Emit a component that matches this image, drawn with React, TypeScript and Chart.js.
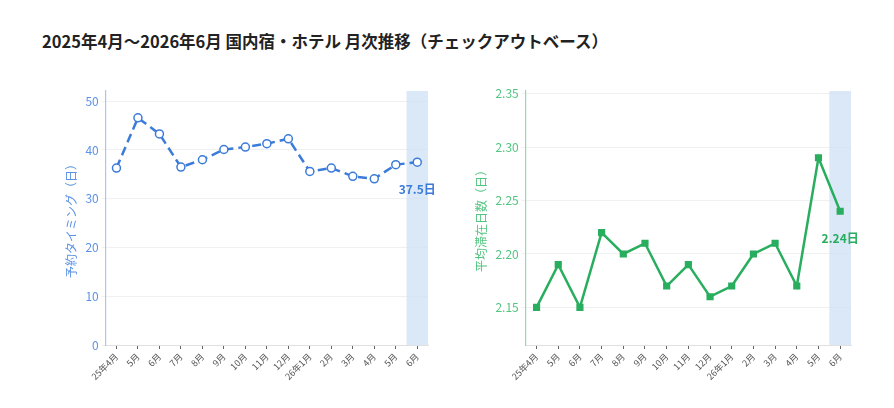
import React, { useEffect, useRef } from "react";
import { Chart, registerables } from "chart.js";

Chart.register(...registerables);

const categories = ["25年4月", "5月", "6月", "7月", "8月", "9月", "10月", "11月", "12月", "26年1月", "2月", "3月", "4月", "5月", "6月"];
const bookingTiming = [36.3, 46.6, 43.3, 36.5, 38.0, 40.1, 40.6, 41.3, 42.3, 35.6, 36.3, 34.6, 34.1, 37.0, 37.5];
const avgStay = [2.15, 2.19, 2.15, 2.22, 2.2, 2.21, 2.17, 2.19, 2.16, 2.17, 2.2, 2.21, 2.17, 2.29, 2.24];
const leftTicks = [0, 10, 20, 30, 40, 50];
const rightTicks = [2.15, 2.2, 2.25, 2.3, 2.35];
const leftLabel = "37.5日";
const rightLabel = "2.24日";

const FONT = "'Noto Sans CJK JP', 'Noto Sans', sans-serif";

function makeChart(
  canvas: HTMLCanvasElement,
  data: number[],
  opts: {
    color: string;
    tickColor: string;
    axisColor: string;
    title: string;
    min: number;
    max: number;
    ticks: number[];
    dashed: boolean;
    pointStyle: string;
    label: string;
    decimals: number;
    padLeft: number;
  }
) {
  const bandPlugin = {
    id: "band",
    beforeDatasetsDraw(chart: any) {
      const { ctx, chartArea, scales } = chart;
      const x = scales.x;
      const last = categories.length - 1;
      const x0 = (x.getPixelForValue(last - 1) + x.getPixelForValue(last)) / 2;
      ctx.save();
      ctx.fillStyle = "rgba(205,224,244,0.75)";
      ctx.fillRect(x0, chartArea.top, chartArea.right - x0, chartArea.bottom - chartArea.top);
      ctx.restore();
    },
  };
  const labelPlugin = {
    id: "lastLabel",
    afterDatasetsDraw(chart: any) {
      const { ctx } = chart;
      const meta = chart.getDatasetMeta(0);
      const pt = meta.data[meta.data.length - 1];
      ctx.save();
      ctx.font = `bold 12px ${FONT}`;
      ctx.fillStyle = opts.color;
      ctx.textAlign = "center";
      ctx.textBaseline = "middle";
      ctx.fillText(opts.label, pt.x, pt.y + 27);
      ctx.restore();
    },
  };
  return new Chart(canvas, {
    type: "line",
    data: {
      labels: categories,
      datasets: [
        {
          data,
          borderColor: opts.color,
          backgroundColor: opts.dashed ? "#ffffff" : opts.color,
          borderWidth: 2.5,
          borderDash: opts.dashed ? [9, 5] : [],
          pointStyle: opts.pointStyle as any,
          pointRadius: 4,
          pointBorderWidth: 1.5,
          pointBackgroundColor: opts.dashed ? "#ffffff" : opts.color,
          pointBorderColor: opts.color,
          tension: 0,
        },
      ],
    },
    options: {
      animation: false,
      responsive: false,
      maintainAspectRatio: false,
      layout: { padding: { top: 16, right: 16, left: opts.padLeft, bottom: 0 } },
      plugins: { legend: { display: false }, tooltip: { enabled: false }, title: { display: false } },
      scales: {
        x: {
          offset: true,
          grid: { drawOnChartArea: false, drawTicks: true, tickLength: 4, color: "#666" },
          border: { color: "#e0e0e0" },
          ticks: { color: "#555", font: { size: 9, family: FONT }, minRotation: 45, maxRotation: 45, padding: 2 },
        },
        y: {
          min: opts.min,
          max: opts.max,
          afterBuildTicks(axis: any) {
            axis.ticks = opts.ticks.map((v) => ({ value: v }));
          },
          grid: { color: "#f0f0f0", tickLength: 4 },
          border: { color: opts.axisColor, width: 1.2 },
          ticks: {
            color: opts.tickColor,
            font: { size: 12, family: FONT },
            padding: 3,
            callback: (v: any) => Number(v).toFixed(opts.decimals),
          },
          title: { display: true, text: opts.title, color: opts.tickColor, font: { size: 12, family: FONT }, padding: 4 },
        },
      },
    },
    plugins: [bandPlugin, labelPlugin],
  });
}

export default function App() {
  const leftRef = useRef<HTMLCanvasElement>(null);
  const rightRef = useRef<HTMLCanvasElement>(null);
  useEffect(() => {
    const c1 = makeChart(leftRef.current!, bookingTiming, {
      color: "#3b7bd9",
      tickColor: "#5b91e6",
      axisColor: "#a8c6f2",
      title: "予約タイミング（日）",
      min: 0,
      max: 52.1,
      ticks: leftTicks,
      dashed: true,
      pointStyle: "circle",
      label: leftLabel,
      decimals: 0,
      padLeft: 8,
    });
    const c2 = makeChart(rightRef.current!, avgStay, {
      color: "#28ae5e",
      tickColor: "#52c580",
      axisColor: "#8fdbab",
      title: "平均滞在日数（日）",
      min: 2.1148,
      max: 2.3525,
      ticks: rightTicks,
      dashed: false,
      pointStyle: "rect",
      label: rightLabel,
      decimals: 2,
      padLeft: 8,
    });
    return () => {
      c1.destroy();
      c2.destroy();
    };
  }, []);
  return (
    <div style={{ position: "absolute", left: 0, top: 0, width: 894, height: 408, background: "#fff", fontFamily: FONT }}>
      <div
        style={{
          position: "absolute",
          left: 42,
          top: 30,
          fontSize: 16.5,
          fontWeight: "bold",
          color: "#222",
          whiteSpace: "nowrap",
          lineHeight: "22px",
        }}
      >
        2025年4月～2026年6月 国内宿・ホテル 月次推移（チェックアウトベース）
      </div>
      <canvas ref={leftRef} width={392} height={309} style={{ position: "absolute", left: 52, top: 75, width: 392, height: 309 }} />
      <canvas ref={rightRef} width={405} height={309} style={{ position: "absolute", left: 462, top: 75, width: 405, height: 309 }} />
    </div>
  );
}
